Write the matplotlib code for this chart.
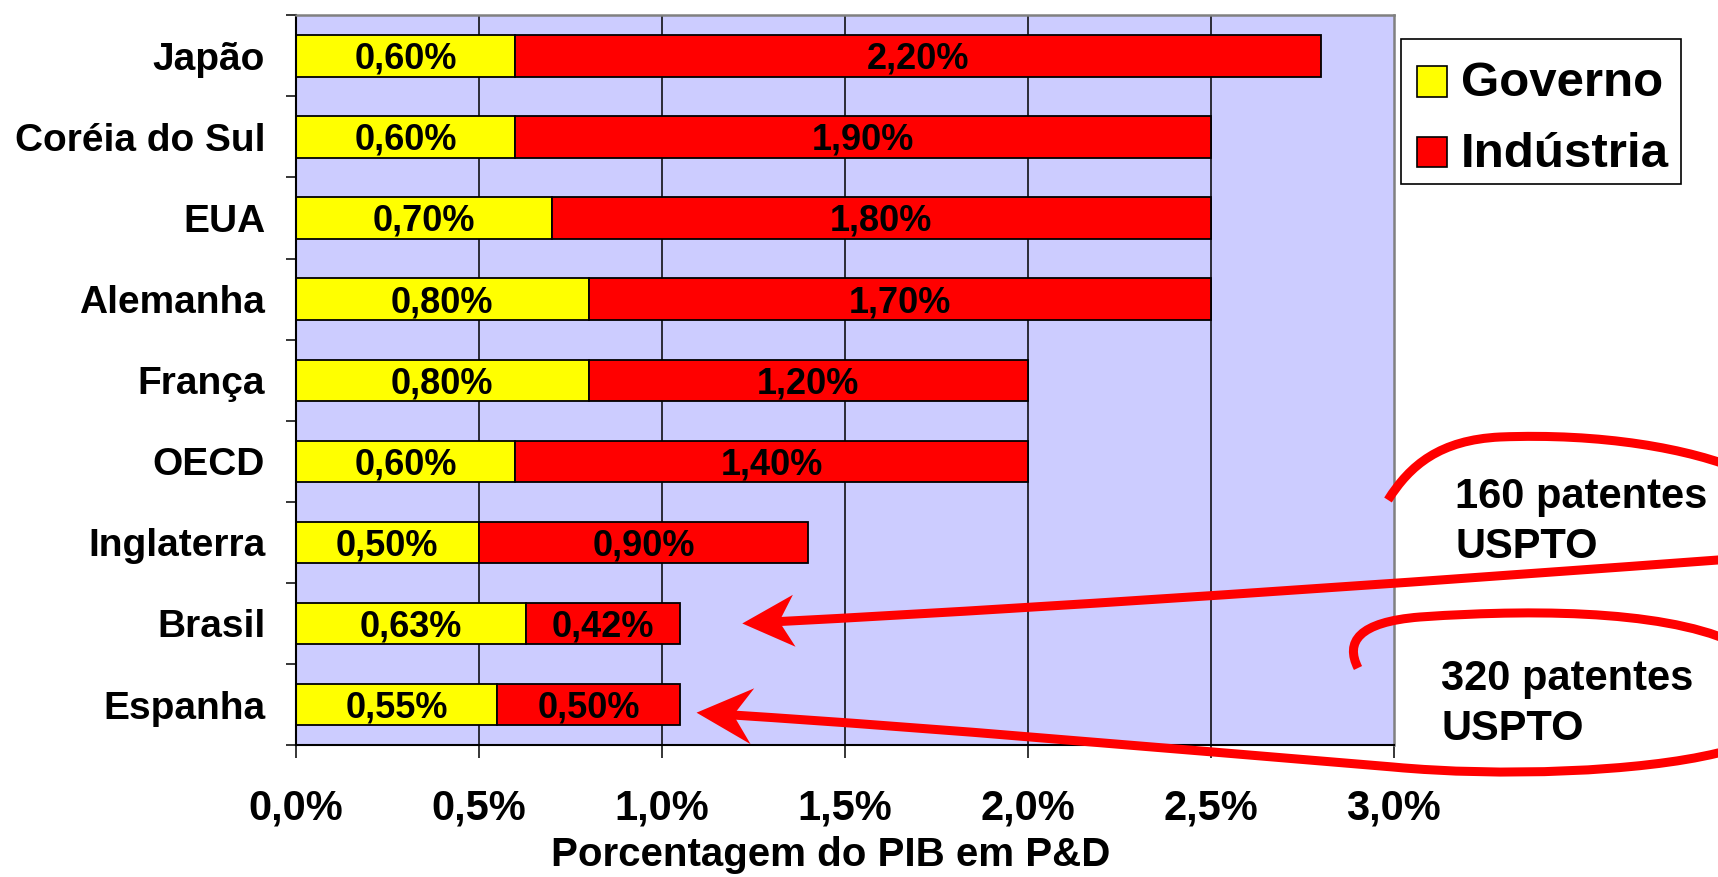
import numpy as np
import matplotlib
matplotlib.use("Agg")
import matplotlib.pyplot as plt
import matplotlib.transforms as mtransforms
from matplotlib.patches import Rectangle, PathPatch, Polygon
from matplotlib.path import Path

plt.rcParams["font.family"] = ["Liberation Sans", "DejaVu Sans"]
plt.rcParams["font.weight"] = "bold"

# gasto em P&D como % do PIB, por fonte
paises = ["Japão", "Coréia do Sul", "EUA", "Alemanha", "França",
          "OECD", "Inglaterra", "Brasil", "Espanha"]
governo = [0.60, 0.60, 0.70, 0.80, 0.80, 0.60, 0.50, 0.63, 0.55]
industria = [2.20, 1.90, 1.80, 1.70, 1.20, 1.40, 0.90, 0.42, 0.50]
xticks = [0.0, 0.5, 1.0, 1.5, 2.0, 2.5, 3.0]
series = ["Governo", "Indústria"]
notas = ["160 patentes", "320 patentes"]
fonte_notas = "USPTO"

AMARELO, VERMELHO, FUNDO = "#FFFF00", "#FF0000", "#CCCCFF"
W, H = 1718, 877


def pct(v, casas=2):
    return f"{v:.{casas}f}".replace(".", ",") + "%"


fig = plt.figure(figsize=(W / 100, H / 100), dpi=100)
ax = fig.add_axes([295.8 / W, 1 - 745.1 / H, 1097.9 / W, 729.8 / H])
ax.set_facecolor(FUNDO)

y = np.arange(len(paises))
gov = np.array(governo)
ind = np.array(industria)

for xv in xticks[1:-1]:
    ax.axvline(xv, color="black", lw=1.1, zorder=0.5)

ax.barh(y, gov, height=0.51, color=AMARELO, edgecolor="black", linewidth=1.3, zorder=2)
ax.barh(y, ind, left=gov, height=0.51, color=VERMELHO, edgecolor="black", linewidth=1.3, zorder=2)

# rótulos centrados em cada segmento (baseline deslocada p/ centrar os dígitos)
for yi, g, i in zip(y, gov, ind):
    for xc, v in ((g / 2, g), (g + i / 2, i)):
        ax.annotate(pct(v), (xc, yi), xytext=(0, -9.3), textcoords="offset points",
                    ha="center", va="baseline", fontsize=26, fontweight="bold", zorder=3)

ax.set_xlim(xticks[0], xticks[-1])
ax.set_ylim(len(paises) - 0.5, -0.5)
ax.set_xticks(xticks)
ax.set_xticklabels([pct(v, 1) for v in xticks])
ax.tick_params(axis="x", direction="out", length=9.5, width=1.1, pad=22, labelsize=30)
ax.set_yticks(y)
ax.set_yticklabels(paises)
ax.set_yticks(np.arange(len(paises) + 1) - 0.5, minor=True)
ax.tick_params(axis="y", which="major", length=0, pad=22, labelsize=28)
ax.tick_params(axis="y", which="minor", direction="out", length=7, width=1.1)

for lado in ("left", "bottom"):
    ax.spines[lado].set_color("black")
    ax.spines[lado].set_linewidth(1.5)
for lado in ("top", "right"):
    ax.spines[lado].set_color("#808080")
    ax.spines[lado].set_linewidth(1.8)

fig.text(830.6 / W, 1 - 866 / H, "Porcentagem do PIB em P&D", ha="center",
         va="baseline", fontsize=29, fontweight="bold")

# pixels contados a partir do canto superior esquerdo da figura
px = mtransforms.Affine2D().scale(1 / W, -1 / H).translate(0, 1) + fig.transFigure

# legenda montada à mão: caixa, quadrados e textos
fig.add_artist(Rectangle((1401, 39), 280, 145, transform=px, fc="white",
                         ec="black", lw=1.2, zorder=3))
for k, (nome, cor) in enumerate(zip(series, (AMARELO, VERMELHO))):
    base = 96.5 + 70.5 * k
    fig.add_artist(Rectangle((1416.5, base - 30.5), 30.5, 30.5, transform=px, fc=cor,
                             ec="black", lw=1.2, zorder=4))
    fig.text(1461 / W, 1 - base / H, nome, ha="left", va="baseline",
             fontsize=35.5, fontweight="bold", zorder=4)


def data_px(xv, yv):
    X, Y = ax.transData.transform((xv, yv))
    return np.array([X, H - Y])


def laco(inicio, trechos, c1, c2, ponta, comp=52, larg=26, entalhe=37):
    """Traço à mão livre em curvas de Bézier terminando numa seta de ponta côncava."""
    u = np.asarray(c2, float) - ponta
    u /= np.hypot(*u)
    n = np.array([-u[1], u[0]])
    fim = ponta + (entalhe - 2) * u
    verts = [inicio]
    codes = [Path.MOVETO]
    for a, b, p in trechos:
        verts += [a, b, p]
        codes += [Path.CURVE4] * 3
    verts += [c1, c2, tuple(fim)]
    codes += [Path.CURVE4] * 3
    fig.add_artist(PathPatch(Path(verts, codes), transform=px, fill=False,
                             ec=VERMELHO, lw=6.5, capstyle="butt", joinstyle="round"))
    cab = [ponta, ponta + comp * u + larg * n, ponta + entalhe * u, ponta + comp * u - larg * n]
    fig.add_artist(Polygon(cab, closed=True, transform=px, fc=VERMELHO, ec="none"))


tot = gov + ind
i_br = paises.index("Brasil")
i_es = paises.index("Espanha")

laco((1388, 500),
     [((1410, 465), (1440, 440), (1500, 437)),
      ((1600, 433), (1690, 448), (1745, 472)),
      ((1800, 500), (1790, 552), (1718, 560))],
     (1500, 576), (1100, 605), data_px(tot[i_br] + 0.17, y[i_br]))

laco((1358, 668),
     [((1345, 642), (1358, 622), (1420, 617)),
      ((1550, 608), (1680, 612), (1745, 648)),
      ((1800, 680), (1790, 745), (1718, 753)),
      ((1640, 772), (1500, 777), (1393, 767))],
     (1150, 747), (950, 729), data_px(tot[i_es] + 0.045, y[i_es] + 0.1), comp=56, larg=28)

for x0, b1, nota in zip((1455, 1441), (508, 690), notas):
    fig.text(x0 / W, 1 - b1 / H, nota, ha="left", va="baseline", fontsize=30, fontweight="bold")
    fig.text(x0 / W, 1 - (b1 + 50) / H, fonte_notas, ha="left", va="baseline",
             fontsize=30, fontweight="bold")

fig.savefig("out.png", dpi=100, facecolor="white")
